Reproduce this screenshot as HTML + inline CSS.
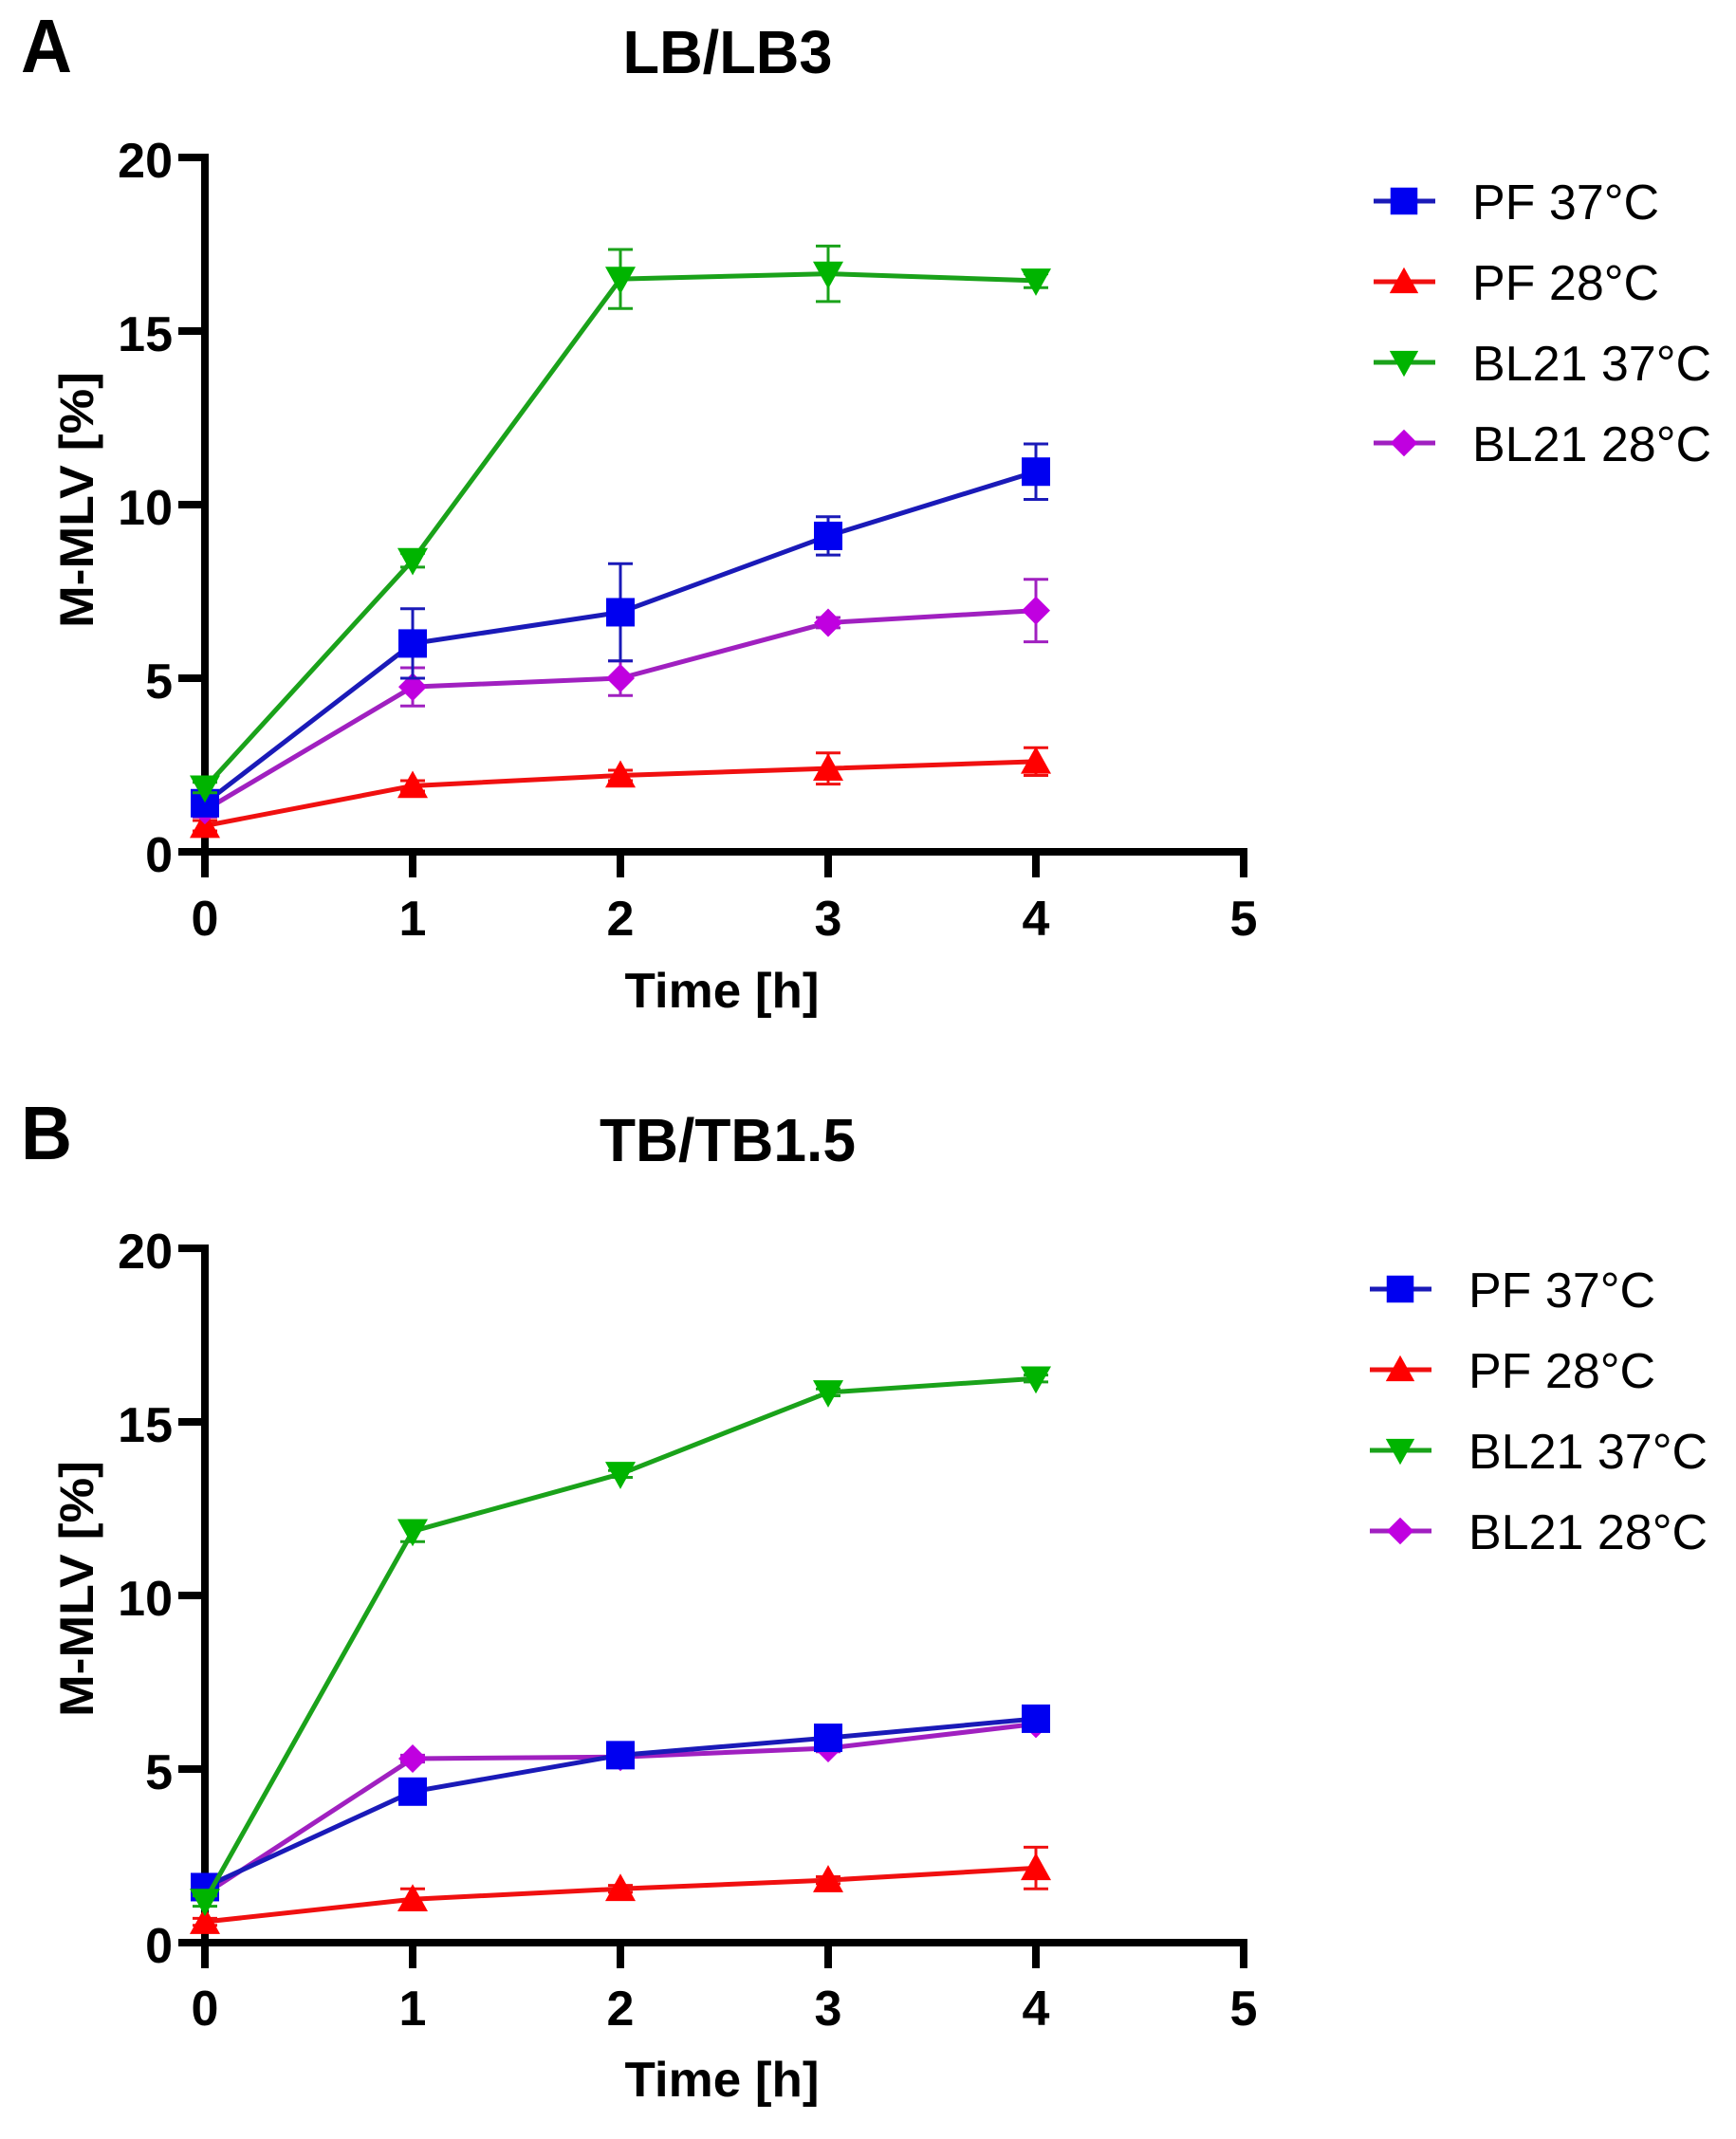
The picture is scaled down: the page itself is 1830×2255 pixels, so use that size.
<!DOCTYPE html>
<html><head><meta charset="utf-8"><style>
html,body{margin:0;padding:0;background:#fff}
svg{display:block}
text{font-family:"Liberation Sans",Arial,sans-serif}
</style></head><body>
<svg id="s" width="1830" height="2255" viewBox="0 0 1830 2255" xmlns="http://www.w3.org/2000/svg">
<rect width="1830" height="2255" fill="#fff"/>
<!-- Panel A static text -->
<text x="22" y="76" font-size="80" font-weight="bold" textLength="54" lengthAdjust="spacingAndGlyphs">A</text>
<text x="767" y="77" font-size="64" font-weight="bold" text-anchor="middle" textLength="221" lengthAdjust="spacingAndGlyphs">LB/LB3</text>
<text x="761" y="1062" font-size="52" font-weight="bold" text-anchor="middle" textLength="205" lengthAdjust="spacingAndGlyphs">Time [h]</text>
<text transform="translate(98,527) rotate(-90)" font-size="50" font-weight="bold" text-anchor="middle" textLength="270" lengthAdjust="spacingAndGlyphs">M-MLV [%]</text>
<!-- Panel B static text -->
<text x="22" y="1222" font-size="80" font-weight="bold" textLength="54" lengthAdjust="spacingAndGlyphs">B</text>
<text x="767" y="1224" font-size="64" font-weight="bold" text-anchor="middle" textLength="270" lengthAdjust="spacingAndGlyphs">TB/TB1.5</text>
<text x="761" y="2210" font-size="52" font-weight="bold" text-anchor="middle" textLength="205" lengthAdjust="spacingAndGlyphs">Time [h]</text>
<text transform="translate(98,1675) rotate(-90)" font-size="50" font-weight="bold" text-anchor="middle" textLength="270" lengthAdjust="spacingAndGlyphs">M-MLV [%]</text>
<g font-size="52" font-weight="bold" text-anchor="end">
<text x="182" y="187">20</text><text x="182" y="370">15</text><text x="182" y="553">10</text><text x="182" y="736">5</text><text x="182" y="919">0</text>
<text x="182" y="1337">20</text><text x="182" y="1520">15</text><text x="182" y="1703">10</text><text x="182" y="1886">5</text><text x="182" y="2069">0</text>
</g>
<g font-size="52" font-weight="bold" text-anchor="middle">
<text x="216" y="986">0</text><text x="435" y="986">1</text><text x="654" y="986">2</text><text x="873" y="986">3</text><text x="1092" y="986">4</text><text x="1311" y="986">5</text>
<text x="216" y="2135">0</text><text x="435" y="2135">1</text><text x="654" y="2135">2</text><text x="873" y="2135">3</text><text x="1092" y="2135">4</text><text x="1311" y="2135">5</text>
</g>
<g font-size="52">
<text x="1552" y="231">PF 37°C</text><text x="1552" y="316">PF 28°C</text><text x="1552" y="401">BL21 37°C</text><text x="1552" y="486">BL21 28°C</text>
<text x="1548" y="1378">PF 37°C</text><text x="1548" y="1463">PF 28°C</text><text x="1548" y="1548">BL21 37°C</text><text x="1548" y="1633">BL21 28°C</text>
</g>
<g id="dyn"></g>
</svg>
<script>
var NS="http://www.w3.org/2000/svg",g=document.getElementById("dyn");
function el(t,a){var e=document.createElementNS(NS,t);for(var k in a)e.setAttribute(k,a[k]);g.appendChild(e);return e;}
var S=[{c:"#0000f0",l:"#1a1ab8",m:"sq"},{c:"#ff0000",l:"#f01010",m:"up"},{c:"#00b400",l:"#1aa21a",m:"dn"},{c:"#c000e0",l:"#a020c0",m:"di"}];
function marker(m,x,y,c,k){k=k||1;
 if(m=="sq"){var s=30*k;el("rect",{x:x-s/2,y:y-s/2,width:s,height:s,fill:c});}
 else if(m=="up"){var h=16*k;el("polygon",{points:(x)+","+(y-h)+" "+(x+h)+","+(y+h*0.8)+" "+(x-h)+","+(y+h*0.8),fill:c});}
 else if(m=="dn"){var h=16*k;el("polygon",{points:(x)+","+(y+h)+" "+(x+h)+","+(y-h*0.8)+" "+(x-h)+","+(y-h*0.8),fill:c});}
 else {var h=15*k;el("polygon",{points:x+","+(y-h)+" "+(x+h)+","+y+" "+x+","+(y+h)+" "+(x-h)+","+y,fill:c});}
}
function panel(y0,data,errs,legY,legX){
 var x0=216,ux=219,uy=36.6;
 // axes
 el("line",{x1:x0,y1:y0-732-4,x2:x0,y2:y0+27,stroke:"#000","stroke-width":8});
 el("line",{x1:x0-4,y1:y0,x2:1311+4,y2:y0,stroke:"#000","stroke-width":8});
 for(var i=0;i<=4;i++){var yy=y0-i*5*uy;el("line",{x1:188,y1:yy,x2:x0,y2:yy,stroke:"#000","stroke-width":8});}
 for(var i=1;i<=5;i++){var xx=x0+i*ux;el("line",{x1:xx,y1:y0,x2:xx,y2:y0+27,stroke:"#000","stroke-width":8});}
 var X=function(i){return x0+i*ux},Y=function(v){return y0-v*uy};
 var order=[1,3,0,2];
 order.forEach(function(s){
  var d=data[s],e=errs[s];
  for(var i=0;i<5;i++){ if(e[i]>0){var x=X(i);
   el("line",{x1:x,y1:Y(d[i]+e[i]),x2:x,y2:Y(d[i]-e[i]),stroke:S[s].l,"stroke-width":3});
   el("line",{x1:x-13,y1:Y(d[i]+e[i]),x2:x+13,y2:Y(d[i]+e[i]),stroke:S[s].l,"stroke-width":3});
   el("line",{x1:x-13,y1:Y(d[i]-e[i]),x2:x+13,y2:Y(d[i]-e[i]),stroke:S[s].l,"stroke-width":3});}}
  var p=d.map(function(v,i){return X(i)+","+Y(v)}).join(" ");
  el("polyline",{points:p,fill:"none",stroke:S[s].l,"stroke-width":5,"stroke-linejoin":"round"});
  for(var i=0;i<5;i++)marker(S[s].m,X(i),Y(d[i]),S[s].c);
 });
 for(var s=0;s<4;s++){var yy=legY+s*85;
  el("line",{x1:legX,y1:yy,x2:legX+65,y2:yy,stroke:S[s].l,"stroke-width":5});
  marker(S[s].m,legX+32,yy,S[s].c,0.95);}
}
panel(898,
 [[1.4,6.0,6.9,9.1,10.95],[0.75,1.9,2.2,2.4,2.6],[1.85,8.4,16.5,16.65,16.45],[1.2,4.75,5.0,6.6,6.95]],
 [[0.3,1.0,1.4,0.55,0.8],[0.15,0.15,0.15,0.45,0.4],[0.15,0.2,0.85,0.8,0.2],[0.2,0.55,0.5,0.15,0.9]],212,1448);
panel(2048,
 [[1.6,4.35,5.4,5.9,6.45],[0.6,1.25,1.55,1.8,2.15],[1.2,11.85,13.5,15.85,16.25],[1.4,5.3,5.35,5.6,6.3]],
 [[0.1,0.1,0.2,0.15,0.1],[0.1,0.3,0.1,0.1,0.6],[0.15,0.3,0.1,0.1,0.1],[0.1,0.1,0.1,0.1,0.1]],1359,1444);
</script>
</body></html>
